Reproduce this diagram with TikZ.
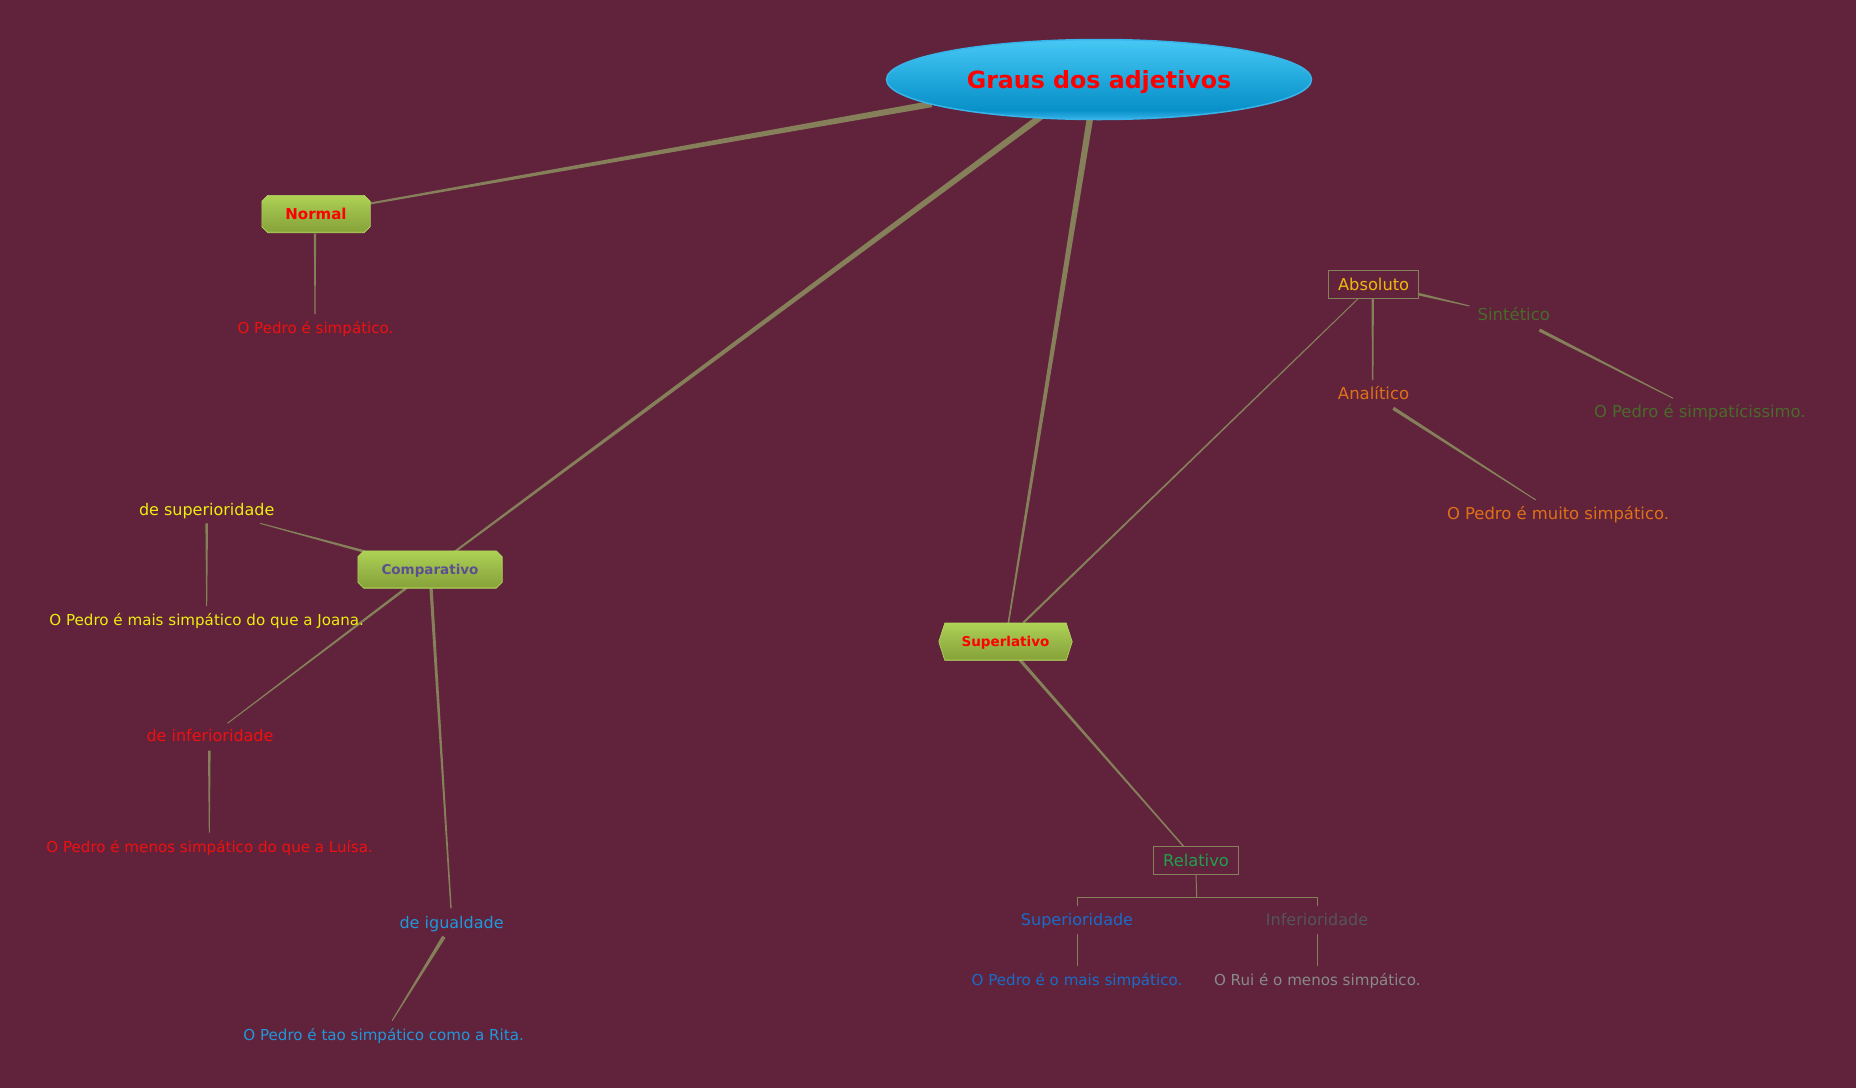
\documentclass[tikz,border=0pt]{standalone}
\usepackage{fontspec}
\setmainfont{DejaVu Sans}
\usetikzlibrary{calc,shapes.geometric}
\definecolor{bgc}{HTML}{60233B}
\definecolor{conn}{HTML}{86805A}
\definecolor{gA}{HTML}{A8D050}
\definecolor{gB}{HTML}{88A43A}
\definecolor{gC}{HTML}{98B848}
\definecolor{gD}{HTML}{AED254}
\definecolor{gE}{HTML}{B4D860}
\definecolor{bA}{HTML}{38B4EA}
\definecolor{bB}{HTML}{0890C8}
\definecolor{bC}{HTML}{20A8DC}
\definecolor{bD}{HTML}{48C8F4}
\definecolor{redt}{HTML}{F01010}
\definecolor{yel}{HTML}{EEEE10}
\definecolor{purp}{HTML}{5C5090}
\definecolor{igual}{HTML}{2098DC}
\definecolor{gold}{HTML}{F0B810}
\definecolor{sint}{HTML}{4A6A2A}
\definecolor{orng}{HTML}{E07018}
\definecolor{relg}{HTML}{20A050}
\definecolor{supb}{HTML}{1A6CC8}
\definecolor{infg}{HTML}{555555}
\definecolor{ruig}{HTML}{8A8A8A}
\pgfdeclareverticalshading{greensh}{100bp}{color(0bp)=(gA); color(25bp)=(gA); color(28bp)=(gB); color(50bp)=(gC); color(75bp)=(gD); color(100bp)=(gD)}
\pgfdeclareverticalshading{bluesh}{100bp}{color(0bp)=(bA); color(25bp)=(bA); color(31bp)=(bB); color(50bp)=(bC); color(75bp)=(bD); color(100bp)=(bD)}
\pgfdeclarelayer{bg}
\pgfdeclarelayer{background}
\pgfsetlayers{bg,background,main}
\newcommand\taper[4]{%
  \fill[conn] ($(#1)!#3!90:(#2)$) -- ($(#1)!#3!-90:(#2)$) -- ($(#2)!#4!90:(#1)$) -- ($(#2)!#4!-90:(#1)$) -- cycle;}
\newcommand\chbox[3]{%
  \shade[shading=greensh, draw=gE, line width=0.6pt]
    ([xshift=#2]#1.north west) -- ([xshift=-#2]#1.north east) -- ([yshift=-#3]#1.north east)
    -- ([yshift=#3]#1.south east) -- ([xshift=-#2]#1.south east) -- ([xshift=#2]#1.south west)
    -- ([yshift=#3]#1.south west) -- ([yshift=-#3]#1.north west) -- cycle;}
\tikzset{
  txt/.style={inner sep=0pt, text height=11pt, text depth=0pt, font=\fontsize{15.1}{18}\selectfont},
  btxt/.style={inner sep=0pt, text height=12pt, text depth=0pt, font=\fontsize{16.4}{19}\selectfont},
  lbl/.style={inner sep=0pt, text height=11.7pt, text depth=0pt, font=\fontsize{16}{19}\selectfont},
  gbox/.style={inner sep=0pt, minimum height=37pt, text depth=0pt},
  obox/.style={draw=conn, line width=0.8pt, inner sep=0pt, minimum width=90pt, minimum height=28pt, text height=11.9pt, text depth=0pt, font=\fontsize{16.3}{19}\selectfont},
  tline/.style={conn, line width=1pt}
}
\begin{document}
\begin{tikzpicture}[x=1pt,y=-1pt]
\begin{pgfonlayer}{bg}
\fill[bgc] (0,0) rectangle (1856,1088);
\end{pgfonlayer}
\useasboundingbox (0,0) rectangle (1856,1088);

% root
\node[ellipse, shade, shading=bluesh, draw=bA, line width=1.5pt, minimum width=425pt, minimum height=80pt, inner sep=0pt,
      text=red, font=\bfseries\fontsize{23.7}{28}\selectfont, text height=17.3pt, text depth=0pt] (root) at (1099,79.5) {Graus dos adjetivos};

% level 1 boxes
\node[gbox, minimum width=108pt, text=red, text height=11pt, font=\bfseries\fontsize{15}{18}\selectfont] (normal) at (316,214) {Normal};
\node[gbox, minimum width=144pt, text=purp, text height=9.9pt, font=\bfseries\fontsize{13.5}{16}\selectfont] (comp) at (430,569.5) {Comparativo};
\node[gbox, minimum width=133pt, text=red, text height=9.9pt, font=\bfseries\fontsize{13.5}{16}\selectfont] (super) at (1005.5,641.7) {Superlativo};

% Normal branch
\node[txt, text=redt] (nex) at (315.5,328.3) {O Pedro é simpático.};

% Comparativo branch
\node[lbl, text=yel] (csup) at (206.7,509.3) {de superioridade};
\node[txt, text=yel] (csupex) at (206.7,620) {O Pedro é mais simpático do que a Joana.};
\node[lbl, text=redt] (cinf) at (210,736) {de inferioridade};
\node[txt, text=redt] (cinfex) at (209.6,846.7) {O Pedro é menos simpático do que a Luísa.};
\node[lbl, text=igual] (cig) at (451.6,922.3) {de igualdade};
\node[txt, text=igual] (cigex) at (383.6,1035) {O Pedro é tao simpático como a Rita.};

% Superlativo branch
\node[obox, text=gold] (abs) at (1373.6,284.7) {Absoluto};
\node[lbl, font=\fontsize{16.5}{19}\selectfont, text=sint] (sin) at (1513.8,315) {Sintético};
\node[btxt, text=sint] (sinex) at (1699.8,411.7) {O Pedro é simpatícissimo.};
\node[lbl, font=\fontsize{16.5}{19}\selectfont, text=orng] (ana) at (1373.6,393.3) {Analítico};
\node[btxt, text=orng] (anaex) at (1558,513.3) {O Pedro é muito simpático.};
\node[obox, minimum width=85pt, text=relg] (rel) at (1196,860.3) {Relativo};
\node[lbl, text=supb] (rsup) at (1077,919.3) {Superioridade};
\node[txt, text=supb] (rsupex) at (1077,980) {O Pedro é o mais simpático.};
\node[lbl, text=infg] (rinf) at (1317,919.3) {Inferioridade};
\node[txt, text=ruig] (rinfex) at (1317.3,980) {O Rui é o menos simpático.};

% connector end points
\coordinate (r1) at (931.6,104);   \coordinate (n1) at (370,203.5);
\coordinate (r2) at (1041.7,116);  \coordinate (c1) at (455,551.5);
\coordinate (r3) at (1090,118);    \coordinate (s1) at (1008.3,623.5);
\coordinate (n2) at (315,233.5);   \coordinate (nx) at (315,314.3);
\coordinate (c2) at (364.3,551.5); \coordinate (cs) at (260,523.3);
\coordinate (cs2) at (206.7,523.3);\coordinate (csx) at (206.7,606);
\coordinate (c3) at (406.7,587.7); \coordinate (ci) at (227.5,723.3);
\coordinate (ci2) at (209.3,750.7);\coordinate (cix) at (209.3,832.7);
\coordinate (c4) at (431,587.7);   \coordinate (cg) at (451,908.3);
\coordinate (cg2) at (443.9,936.7);\coordinate (cgx) at (392.1,1020.7);
\coordinate (s2) at (1023.3,622.7);\coordinate (a1) at (1358.5,298.3);
\coordinate (s3) at (1020,660);    \coordinate (rl1) at (1183.3,846);
\coordinate (a2) at (1418.1,294);  \coordinate (si1) at (1469.5,306);
\coordinate (si2) at (1539.4,330); \coordinate (six) at (1673,398.3);
\coordinate (a3) at (1372.7,298.5);\coordinate (an1) at (1372.7,380);
\coordinate (an2) at (1393.3,408.3);\coordinate (anx) at (1535.8,500);
\coordinate (rt) at (1196.7,897);
\coordinate (rsl) at (1077,897);   \coordinate (rsr) at (1317,897);
\coordinate (rs1) at (1077,906);   \coordinate (ri1) at (1317,906);
\coordinate (rs2) at (1077,934.3); \coordinate (rsx) at (1077,966);
\coordinate (ri2) at (1317,934.3); \coordinate (rix) at (1317,966);

\begin{pgfonlayer}{background}
\taper{r1}{n1}{3.2pt}{1pt}
\taper{r2}{c1}{3.2pt}{1pt}
\taper{r3}{s1}{3.2pt}{0.8pt}
\taper{n2}{nx}{1.2pt}{0.5pt}
\taper{c2}{cs}{1.3pt}{0.5pt}
\taper{cs2}{csx}{1.3pt}{0.5pt}
\taper{c3}{ci}{1.3pt}{0.5pt}
\taper{ci2}{cix}{1.3pt}{0.5pt}
\taper{c4}{cg}{1.6pt}{0.7pt}
\taper{cg2}{cgx}{1.9pt}{0.5pt}
\taper{s2}{a1}{1.1pt}{0.5pt}
\taper{s3}{rl1}{1.6pt}{0.7pt}
\taper{a2}{si1}{1.3pt}{0.5pt}
\taper{si2}{six}{1.6pt}{0.5pt}
\taper{a3}{an1}{1.2pt}{0.7pt}
\taper{an2}{anx}{1.7pt}{0.5pt}
\draw[tline] (rel.south) -- (rt);
\draw[tline] (rs1) -- (rsl) -- (rsr) -- (ri1);
\draw[tline] (rs2) -- (rsx);
\draw[tline] (ri2) -- (rix);
\chbox{normal}{6pt}{6pt}
\chbox{comp}{6pt}{6pt}
\chbox{super}{6pt}{18.5pt}
\end{pgfonlayer}
\end{tikzpicture}
\end{document}
